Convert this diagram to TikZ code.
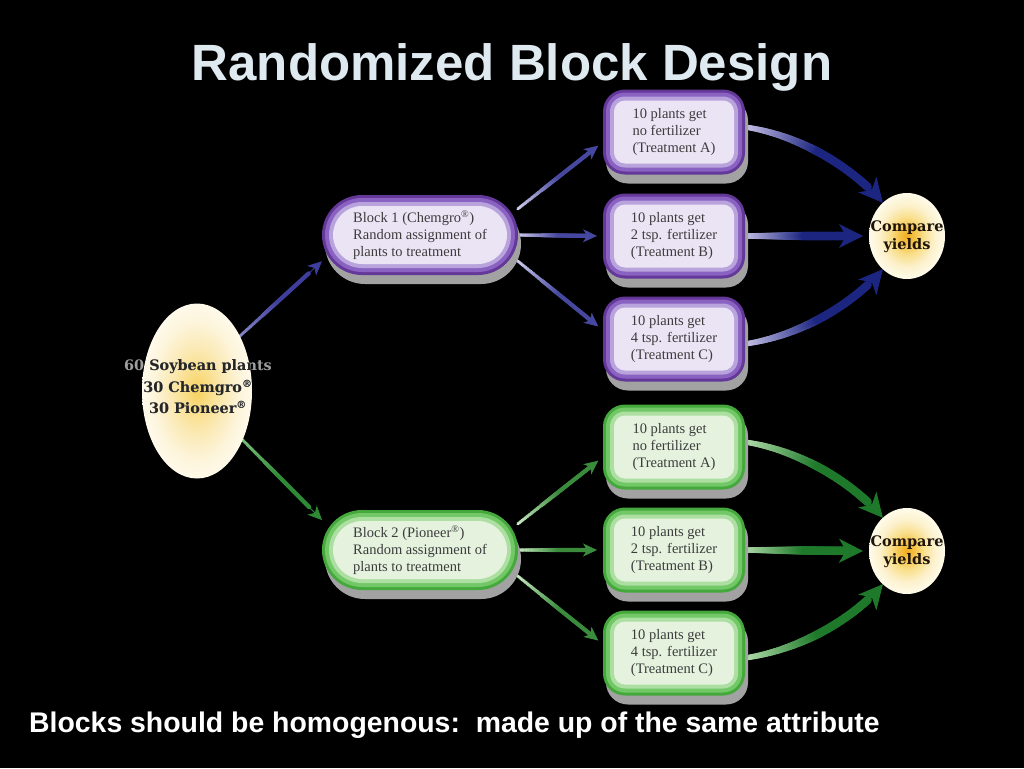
\documentclass[tikz,border=0pt]{standalone}
\usepackage{fontspec}
\setmainfont{Liberation Serif}
\newfontfamily\titlefont{Liberation Sans}
\newfontfamily\heavyfont{DejaVu Serif}
\usetikzlibrary{arrows.meta,decorations.markings,shapes.geometric,calc}

\definecolor{titlecol}{HTML}{DFE9F0}
\definecolor{txtcol}{HTML}{3C3C3C}
\definecolor{Po}{HTML}{643898}
\definecolor{Pm}{HTML}{8A62C2}
\definecolor{Pn}{HTML}{B9A3DC}
\definecolor{Pi}{HTML}{EBE4F5}
\definecolor{Go}{HTML}{45A83C}
\definecolor{Gm}{HTML}{72C866}
\definecolor{Gn}{HTML}{ADDFA2}
\definecolor{Gi}{HTML}{E4F2DE}
\definecolor{shadowcol}{HTML}{A2A2A2}
\definecolor{bdark}{HTML}{1C2580}
\definecolor{blight}{HTML}{CEC8EC}
\definecolor{tbdark}{HTML}{4648A0}
\definecolor{tblight}{HTML}{D4D2F0}
\definecolor{gdark}{HTML}{1E7A2A}
\definecolor{glight}{HTML}{B8E0B0}
\definecolor{tgdark}{HTML}{3A8C3C}
\definecolor{tglight}{HTML}{CDEEC6}
\definecolor{sbdark}{HTML}{3E3E9C}
\definecolor{sblight}{HTML}{8A8AC8}
\definecolor{sgdark}{HTML}{2F8A35}
\definecolor{sglight}{HTML}{7CC07C}
\definecolor{srcA}{HTML}{F7D15E}
\definecolor{srcB}{HTML}{F9DC84}
\definecolor{srcC}{HTML}{FBEAB6}
\definecolor{srcD}{HTML}{FDF5DC}
\definecolor{srcE}{HTML}{FEF9EA}
\definecolor{cmpA}{HTML}{F0AC22}
\definecolor{cmpB}{HTML}{F5C246}
\definecolor{cmpC}{HTML}{F9DF8C}
\definecolor{cmpD}{HTML}{FCF1CC}
\definecolor{cmpE}{HTML}{FFFBEA}

\pgfdeclareradialshading{srcshade}{\pgfpoint{0bp}{0bp}}{%
  color(0bp)=(srcA); color(5bp)=(srcB); color(12.5bp)=(srcC);
  color(20bp)=(srcD); color(25bp)=(srcE); color(50bp)=(srcE)}
\pgfdeclareradialshading{cmpshade}{\pgfpoint{0bp}{0bp}}{%
  color(0bp)=(cmpA); color(5bp)=(cmpB); color(11bp)=(cmpC);
  color(18bp)=(cmpD); color(25bp)=(cmpE); color(50bp)=(cmpE)}

\pgfdeclarelayer{back}
\pgfdeclarelayer{arr}
\pgfsetlayers{back,arr,main}

\tikzset{
  lay/.style={inner sep=0pt, outer sep=0pt, draw=none},
  boxtxt/.style={inner sep=0pt, align=left, text=txtcol,
    font=\fontsize{14.5}{16.8}\selectfont},
  grad/.style n args={5}{postaction={decorate,decoration={markings,
    mark=between positions 0 and #5 step 0.01 with {%
      \pgfmathsetmacro\pp{min(100,\pgfkeysvalueof{/pgf/decoration/mark info/sequence number}*2)}%
      \pgfmathsetmacro\rr{#3+(#4-#3)*\pp/100}%
      \fill[#1!\pp!#2] (0,0) circle (\rr pt);}}}},
  thickarrow/.style 2 args={#1, line width=1pt,
    -{Stealth[length=24pt,width=24pt,inset=7pt]},
    grad={#1}{#2}{2.7}{4.4}{0.86}},
  thinarrow/.style 2 args={#1, line width=0.8pt,
    -{Stealth[length=14pt,width=13pt,inset=4pt]},
    grad={#1}{#2}{1.7}{2.2}{0.84}},
}

% name, x, y, w, h, r, scheme, text
\newcommand\layerbox[8]{%
  \node[lay, fill=shadowcol, minimum width=#4pt, minimum height=#5pt,
        rounded corners=#6pt] (#1s) at (#2+3,#3+9) {};
  \node[lay, fill=#7o, minimum width=#4pt, minimum height=#5pt,
        rounded corners=#6pt] (#1) at (#2,#3) {};
  \node[lay, fill=#7m, minimum width=#4pt-6pt, minimum height=#5pt-6pt,
        rounded corners=#6pt-3pt] (#1m) at (#2,#3) {};
  \node[lay, fill=#7n, minimum width=#4pt-14pt, minimum height=#5pt-14pt,
        rounded corners=#6pt-7pt] (#1n) at (#2,#3) {};
  \node[lay, fill=#7i, minimum width=#4pt-22pt, minimum height=#5pt-22pt,
        rounded corners=#6pt-11pt] (#1i) at (#2,#3) {};
  \node[boxtxt] (#1t) at (#2,#3) {#8};
}

\begin{document}
\begin{tikzpicture}[x=1pt,y=-1pt]
\begin{pgfonlayer}{back}
\fill[black] (0,0) rectangle (1024,768);
\end{pgfonlayer}
\useasboundingbox (0,0) rectangle (1024,768);

% title and footer
\node[anchor=base, text=titlecol, inner sep=0pt,
      font=\titlefont\bfseries\fontsize{51}{56}\selectfont] (title) at (512,80)
      {Randomized Block Design};
\node[anchor=base west, text=white, inner sep=0pt,
      font=\titlefont\bfseries\fontsize{28.4}{32}\selectfont] (foot) at (29,732)
      {Blocks should be homogenous:\ \ made up of the same attribute};

% source ellipse
\node[ellipse, lay, shading=srcshade, minimum width=110pt, minimum height=175pt]
      (src) at (197,391) {};
\node[inner sep=0pt, align=center, text=gray!75,
      font=\heavyfont\bfseries\fontsize{14.4}{21.5}\selectfont] (srcg) at (198,387)
      {60 Soybean plants\\30 Chemgro\textsuperscript{®}\\30 Pioneer\textsuperscript{®}};
\begin{scope}
\clip (197,391) ellipse [x radius=55, y radius=87.5];
\node[inner sep=0pt, align=center, text=black!85,
      font=\heavyfont\bfseries\fontsize{14.4}{21.5}\selectfont] (srct) at (198,387)
      {60 Soybean plants\\30 Chemgro\textsuperscript{®}\\30 Pioneer\textsuperscript{®}};
\end{scope}

% blocks
\layerbox{b1}{420}{235}{196}{80}{40}{P}{Block 1 (Chemgro\textsuperscript{®})\\Random assignment of\\plants to treatment}
\layerbox{b2}{420}{550}{196}{80}{40}{G}{Block 2 (Pioneer\textsuperscript{®})\\Random assignment of\\plants to treatment}

% treatments
\layerbox{a1}{674}{132}{142}{85}{22}{P}{10 plants get\\no fertilizer\\(Treatment A)}
\layerbox{a2}{674}{236}{142}{85}{22}{P}{10 plants get\\2 tsp. fertilizer\\(Treatment B)}
\layerbox{a3}{674}{339}{142}{85}{22}{P}{10 plants get\\4 tsp. fertilizer\\(Treatment C)}
\layerbox{g1}{674}{447}{142}{85}{22}{G}{10 plants get\\no fertilizer\\(Treatment A)}
\layerbox{g2}{674}{550}{142}{85}{22}{G}{10 plants get\\2 tsp. fertilizer\\(Treatment B)}
\layerbox{g3}{674}{653}{142}{85}{22}{G}{10 plants get\\4 tsp. fertilizer\\(Treatment C)}

% compare yields
\node[ellipse, lay, shading=cmpshade, minimum width=76pt, minimum height=86pt]
      (c1) at (907,236) {};
\node[inner sep=0pt, align=center, text=black!85!brown,
      font=\heavyfont\bfseries\fontsize{14.5}{18}\selectfont] (c1t) at (907,237)
      {Compare\\yields};
\node[ellipse, lay, shading=cmpshade, minimum width=76pt, minimum height=86pt]
      (c2) at (907,551) {};
\node[inner sep=0pt, align=center, text=black!85!brown,
      font=\heavyfont\bfseries\fontsize{14.5}{18}\selectfont] (c2t) at (907,552)
      {Compare\\yields};

% connectors
\begin{pgfonlayer}{arr}
\draw[thinarrow={sbdark}{sblight}] (src.52) -- (b1.195);
\draw[thinarrow={sgdark}{sglight}] (src.-47) -- (b2.163);

\draw[thinarrow={tbdark}{tblight}, shorten >=6pt] (b1.15) -- (a1.188);
\draw[thinarrow={tbdark}{tblight}, shorten >=6pt] (b1.east) -- (a2.west);
\draw[thinarrow={tbdark}{tblight}, shorten >=6pt] (b1.-15) -- (a3.173);
\draw[thinarrow={tgdark}{tglight}, shorten >=6pt] (b2.15) -- (g1.188);
\draw[thinarrow={tgdark}{tglight}, shorten >=6pt] (b2.east) -- (g2.west);
\draw[thinarrow={tgdark}{tglight}, shorten >=6pt] (b2.-15) -- (g3.173);

\draw[thickarrow={bdark}{blight}] (a1.4) .. controls +(55,8) and +(-30,-35) .. (c1.126);
\draw[thickarrow={bdark}{blight}, shorten >=6pt] (a2.east) -- (c1.west);
\draw[thickarrow={bdark}{blight}] (a3.-4) .. controls +(55,-8) and +(-30,35) .. (c1.234);
\draw[thickarrow={gdark}{glight}] (g1.4) .. controls +(55,8) and +(-30,-35) .. (c2.126);
\draw[thickarrow={gdark}{glight}, shorten >=6pt] (g2.east) -- (c2.west);
\draw[thickarrow={gdark}{glight}] (g3.-4) .. controls +(55,-8) and +(-30,35) .. (c2.234);
\end{pgfonlayer}
\end{tikzpicture}
\end{document}
